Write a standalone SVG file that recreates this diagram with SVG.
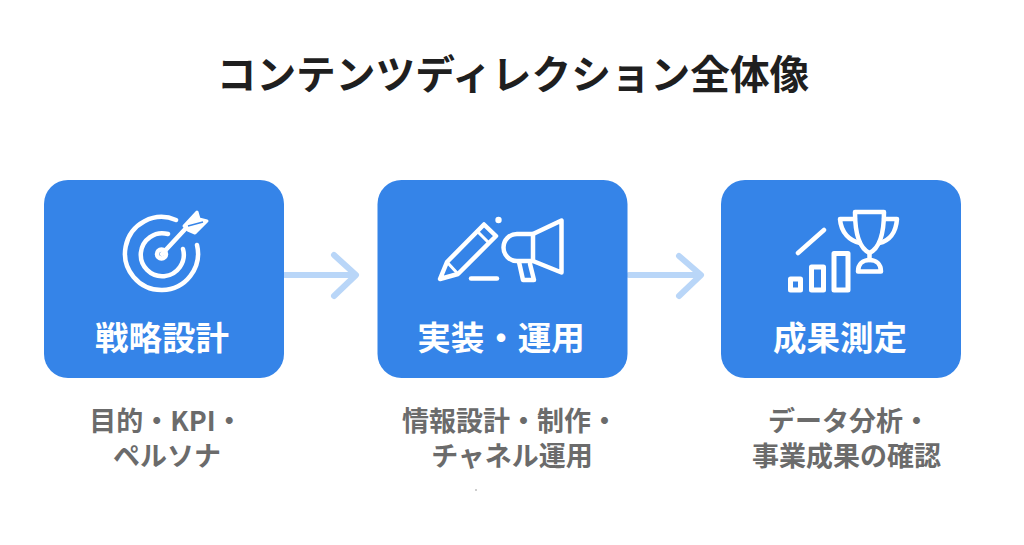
<svg xmlns="http://www.w3.org/2000/svg" width="1024" height="545" viewBox="0 0 1024 545">
<defs>
<style>
text{font-family:"Noto Sans CJK JP","Noto Sans",sans-serif;text-anchor:middle}
.title{font-size:39.700px;font-weight:700;fill:#1f1f1f}
.label{font-size:33.500px;font-weight:700;fill:#fff}
.desc{font-size:27px;font-weight:700;fill:#6b6b6b}
.card{fill:#3584e8}
.ic{fill:none;stroke:#fff;stroke-width:4.500;stroke-linecap:round;stroke-linejoin:round}
.conn{fill:none;stroke:#b9d6f8;stroke-width:6;stroke-linecap:round;stroke-linejoin:round}
</style>
</defs>
<rect width="1024" height="545" fill="#fff"/>
<text class="title" x="513" y="89">コンテンツディレクション全体像</text>
<g id="connectors">
<path class="conn" d="M285 275H355M334 255L356 275L334 296"/>
<path class="conn" d="M629 275H700M679 256L701 275L679 296"/>
</g>
<g id="node-strategy">
<rect class="card" x="44" y="180" width="240" height="198" rx="24"/>
<g class="ic">
<path d="M176 220A36.500 36.500 0 1 0 197 245"/>
<path d="M168 234A21.500 21.500 0 1 0 183 249"/>
<circle cx="161.500" cy="254" r="4.500"/>
<path d="M162 254L188 226"/>
</g>
<path d="M184 226L197 212L199 219L207 221L195 233L188 230Z" fill="#fff" stroke="#fff" stroke-width="3" stroke-linejoin="round"/>
<path d="M188 226L203 222" fill="none" stroke="#3584e8" stroke-width="1.500"/>
<text class="label" x="162" y="350">戦略設計</text>
</g>
<g id="node-implementation">
<rect class="card" x="377.500" y="180" width="250" height="198" rx="24"/>
<g class="ic">
<path d="M440 279L447 262L484 224.500L496 236L458 274Z"/>
<path d="M477 231L489 243" stroke-width="3"/>
<path d="M447 262L458 274" stroke-width="3"/>
<path d="M471 278.500H497"/>
<path d="M533 234H517A13.500 13.500 0 0 0 517 261H533Z"/>
<path d="M533 234L561.500 220.500V272.500L533 261"/>
<path d="M519 262L523 280H534L530 264"/>
</g>
<circle cx="498.500" cy="220" r="3.200" fill="#fff"/>
<text class="label" x="501" y="350">実装・運用</text>
</g>
<g id="node-measure">
<rect class="card" x="721" y="180" width="240" height="198" rx="24"/>
<g class="ic">
<path d="M855 212H884C884 232 880 248 869.500 253C859 248 855 232 855 212Z"/>
<path d="M855 219H840C841 233 850 241 860 243"/>
<path d="M884 219H897C896 233 889 241 879 243"/>
<path d="M869.500 253V260"/>
<path d="M858 271.500H881C881 264 876 260 869.500 260C863 260 858 264 858 271.500Z"/>
<g stroke-width="5"><rect x="790.500" y="279" width="10" height="11"/>
<rect x="811.500" y="267" width="12" height="23"/>
<rect x="834" y="253.500" width="14" height="36.500"/></g>
<path d="M798 253L824 230"/>
</g>
<text class="label" x="840" y="350">成果測定</text>
</g>
<g id="desc-1">
<text class="desc"><tspan x="166" y="431">目的・KPI・</tspan><tspan x="167" y="466">ペルソナ</tspan></text>
</g>
<g id="desc-2">
<text class="desc"><tspan x="510" y="431">情報設計・制作・</tspan><tspan x="512" y="466">チャネル運用</tspan></text>
</g>
<g id="desc-3">
<text class="desc"><tspan x="849" y="431">データ分析・</tspan><tspan x="846.500" y="466">事業成果の確認</tspan></text>
</g>
<circle cx="476" cy="490" r="0.700" fill="#777"/>
</svg>
